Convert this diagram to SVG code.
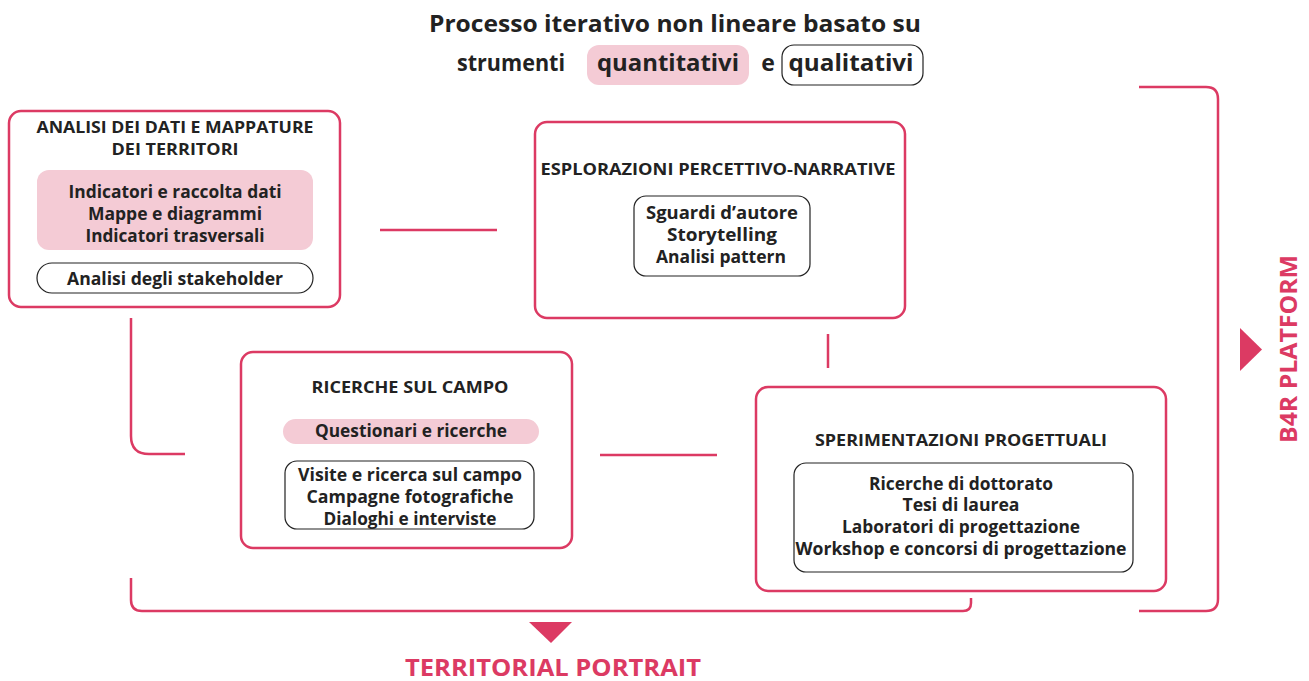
<svg xmlns="http://www.w3.org/2000/svg" width="1309" height="681" viewBox="0 0 1309 681">
<style>
.box{fill:#fff;stroke:#dc3a63;stroke-width:2.5}
.pink{fill:#f4cbd5}
.wbox{fill:#fff;stroke:#222;stroke-width:1.2}
.con{fill:none;stroke:#dc3a63;stroke-width:2.5}
text{font-family:"Open Sans","Liberation Sans",sans-serif;font-weight:700;fill:#222;text-anchor:middle}
.h{font-size:16px}
.t{font-size:17px}
.ti{font-size:23px}
.acc{fill:#dc3a63;font-size:24px}
.tri{fill:#dc3a63}
</style>
<rect width="1309" height="681" fill="#fff"/>
<g id="title">
<text class="ti" x="675" y="32" textLength="492" lengthAdjust="spacingAndGlyphs">Processo iterativo non lineare basato su</text>
<rect class="pink" x="587" y="45" width="162" height="40" rx="12"/>
<rect class="wbox" x="782" y="45" width="141" height="40" rx="12"/>
<text class="ti" x="511" y="71" textLength="108" lengthAdjust="spacingAndGlyphs">strumenti</text>
<text class="ti" x="668" y="71" textLength="142" lengthAdjust="spacingAndGlyphs">quantitativi</text>
<text class="ti" x="768" y="71">e</text>
<text class="ti" x="851" y="71" textLength="125" lengthAdjust="spacingAndGlyphs">qualitativi</text>
</g>
<g id="connectors">
<line class="con" x1="380" y1="230" x2="497" y2="230"/>
<line class="con" x1="828" y1="334" x2="828" y2="368"/>
<path class="con" d="M131,318 V436 Q131,454 149,454 H185"/>
<line class="con" x1="600" y1="455" x2="717" y2="455"/>
<path class="con" d="M131,578 V600 Q131,611 142,611 H963 Q971,611 971,603 V598"/>
<path class="con" d="M1139,87 H1206 Q1218,87 1218,99 V599 Q1218,611 1206,611 H1139"/>
</g>
<g id="node-analisi">
<rect class="box" x="9" y="111" width="331" height="196" rx="12"/>
<text class="h" x="175" y="133" textLength="277" lengthAdjust="spacingAndGlyphs">ANALISI DEI DATI E MAPPATURE</text>
<text class="h" x="175" y="155" textLength="127" lengthAdjust="spacingAndGlyphs">DEI TERRITORI</text>
<rect class="pink" x="37" y="170" width="276" height="80" rx="12"/>
<text class="t" x="175" y="198" textLength="213" lengthAdjust="spacingAndGlyphs">Indicatori e raccolta dati</text>
<text class="t" x="175" y="220" textLength="174" lengthAdjust="spacingAndGlyphs">Mappe e diagrammi</text>
<text class="t" x="175" y="242" textLength="179" lengthAdjust="spacingAndGlyphs">Indicatori trasversali</text>
<rect class="wbox" x="37" y="263" width="276" height="30" rx="15"/>
<text class="t" x="175" y="285" textLength="216" lengthAdjust="spacingAndGlyphs">Analisi degli stakeholder</text>
</g>
<g id="node-esplorazioni">
<rect class="box" x="535" y="122" width="370" height="196" rx="12"/>
<text class="h" x="718" y="175" textLength="355" lengthAdjust="spacingAndGlyphs">ESPLORAZIONI PERCETTIVO-NARRATIVE</text>
<rect class="wbox" x="634" y="196" width="176" height="80" rx="12"/>
<text class="t" x="722" y="219" textLength="152" lengthAdjust="spacingAndGlyphs">Sguardi d’autore</text>
<text class="t" x="722" y="241" textLength="110" lengthAdjust="spacingAndGlyphs">Storytelling</text>
<text class="t" x="721" y="263" textLength="130" lengthAdjust="spacingAndGlyphs">Analisi pattern</text>
</g>
<g id="node-ricerche">
<rect class="box" x="241" y="352" width="331" height="196" rx="12"/>
<text class="h" x="410" y="393" textLength="197" lengthAdjust="spacingAndGlyphs">RICERCHE SUL CAMPO</text>
<rect class="pink" x="283" y="419" width="256" height="25" rx="12.5"/>
<text class="t" x="411" y="437" textLength="192" lengthAdjust="spacingAndGlyphs">Questionari e ricerche</text>
<rect class="wbox" x="285" y="461" width="249" height="68" rx="12"/>
<text class="t" x="410" y="481" textLength="224" lengthAdjust="spacingAndGlyphs">Visite e ricerca sul campo</text>
<text class="t" x="410" y="503" textLength="207" lengthAdjust="spacingAndGlyphs">Campagne fotografiche</text>
<text class="t" x="410" y="525" textLength="173" lengthAdjust="spacingAndGlyphs">Dialoghi e interviste</text>
</g>
<g id="node-sperimentazioni">
<rect class="box" x="756" y="387" width="410" height="204" rx="12"/>
<text class="h" x="961" y="446" textLength="292" lengthAdjust="spacingAndGlyphs">SPERIMENTAZIONI PROGETTUALI</text>
<rect class="wbox" x="794" y="463" width="339" height="109" rx="12"/>
<text class="t" x="961" y="490" textLength="184" lengthAdjust="spacingAndGlyphs">Ricerche di dottorato</text>
<text class="t" x="961" y="511" textLength="117" lengthAdjust="spacingAndGlyphs">Tesi di laurea</text>
<text class="t" x="961" y="533" textLength="238" lengthAdjust="spacingAndGlyphs">Laboratori di progettazione</text>
<text class="t" x="961" y="555" textLength="331" lengthAdjust="spacingAndGlyphs">Workshop e concorsi di progettazione</text>
</g>
<g id="territorial-portrait">
<polygon class="tri" points="529,622 572,622 551,643"/>
<text class="acc" x="553" y="676" textLength="296" lengthAdjust="spacingAndGlyphs">TERRITORIAL PORTRAIT</text>
</g>
<g id="b4r-platform">
<polygon class="tri" points="1240,328 1262,349.5 1240,371"/>
<text class="acc" x="0" y="0" transform="translate(1297,349) rotate(-90)" textLength="188" lengthAdjust="spacingAndGlyphs">B4R PLATFORM</text>
</g>
</svg>
